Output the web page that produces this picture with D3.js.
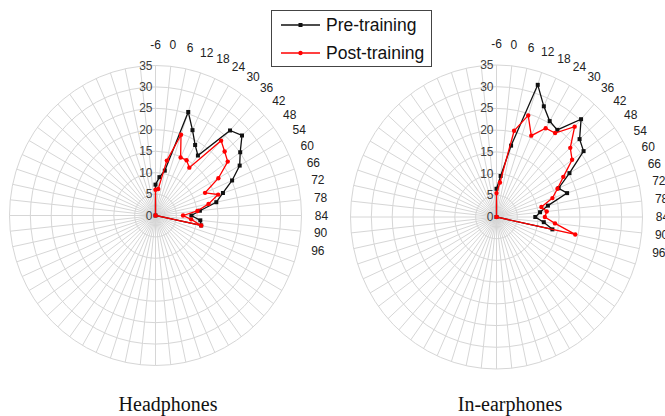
<!DOCTYPE html>
<html>
<head>
<meta charset="utf-8">
<script src="https://cdn.jsdelivr.net/npm/d3@7"></script>
<style>
  body { margin: 0; background: #fff; }
  svg { display: block; }
  .ring, .spoke { fill: none; stroke: #d6d6d6; stroke-width: 1; }
  .rlabel { font-family: Arial, "Liberation Sans", sans-serif; font-size: 12px; fill: #404040; }
  .clabel { font-family: Arial, "Liberation Sans", sans-serif; font-size: 12px; fill: #222; }
  .caption { font-family: "Liberation Serif", "Times New Roman", serif; font-size: 20px; fill: #111; }
  .legend text { font-family: Arial, "Liberation Sans", sans-serif; font-size: 17.5px; fill: #111; }
</style>
</head>
<body>
<div id="chart"></div>
<script>
// category labels (only the first 18 of the 60 spokes carry text)
var catLabels = ['-6','0','6','12','18','24','30','36','42','48','54','60','66','72','78','84','90','96'];
var spokeCount = 60;
var radialTicks = [0, 5, 10, 15, 20, 25, 30, 35];

// Headphones
var headPre  = [7.2, 9.0, 10.7, 25.4, 21.8, 19.0, 17.3, 26.7, 27.9, 25.1, 23.3, 20.1, 17.0, 14.9, 10.7, 8.6, 10.8, 11.2];
var headPost = [6.0, 6.2, 13.1, 19.8, 14.8, 14.9, 13.8, 23.5, 22.3, 21.4, 17.4, 13.0, 15.8, 13.0, 10.1, 6.6, 8.6, 11.2];
// In-earphones
var earPre   = [6.5, 9.5, 16.8, 32.0, 27.9, 25.5, 24.8, 30.3, 26.8, 25.8, 20.2, 16.3, 17.8, 12.6, 10.5, 9.3, 11.4, 13.7];
var earPost  = [5.5, 8.0, 20.3, 24.6, 20.5, 23.6, 23.9, 28.0, 23.8, 22.4, 18.5, 16.0, 14.1, 11.0, 12.1, 11.6, 14.1, 19.3];

var W = 665, H = 416;
var svg = d3.select('#chart').append('svg')
  .attr('width', W)
  .attr('height', H);

function radar(opt) {
  var g = svg.append('g');
  var rScale = d3.scaleLinear().domain([0, 35]).range([0, opt.ry]);
  var sx = opt.rx / opt.ry;
  var aScale = d3.scaleLinear().domain([0, spokeCount]).range([0, 2 * Math.PI]);

  function px(i, v) { return opt.cx + sx * rScale(v) * Math.sin(aScale(i)); }
  function py(i, v) { return opt.cy - rScale(v) * Math.cos(aScale(i)); }

  // rings
  g.selectAll('.ring')
    .data(radialTicks.slice(1))
    .enter().append('ellipse')
    .attr('class', 'ring')
    .attr('cx', opt.cx).attr('cy', opt.cy)
    .attr('rx', function(d){ return sx * rScale(d); })
    .attr('ry', function(d){ return rScale(d); });

  // spokes
  g.selectAll('.spoke')
    .data(d3.range(spokeCount))
    .enter().append('line')
    .attr('class', 'spoke')
    .attr('x1', opt.cx).attr('y1', opt.cy)
    .attr('x2', function(i){ return px(i, 35); })
    .attr('y2', function(i){ return py(i, 35); });

  // radial tick labels
  g.selectAll('.rlabel')
    .data(radialTicks)
    .enter().append('text')
    .attr('class', 'rlabel')
    .attr('x', opt.cx - 3)
    .attr('y', function(d){ return opt.cy - rScale(d) + 4; })
    .attr('text-anchor', 'end')
    .text(function(d){ return d; });

  // category labels
  g.selectAll('.clabel')
    .data(catLabels)
    .enter().append('text')
    .attr('class', 'clabel')
    .attr('x', function(d, i){ return px(i, 35) + 20 * Math.sin(aScale(i)); })
    .attr('y', function(d, i){ return py(i, 35) - 21 * Math.cos(aScale(i)) + 4; })
    .attr('text-anchor', 'middle')
    .text(function(d){ return d; });

  // series: values on labelled spokes, zero on the rest
  var line = d3.line()
    .x(function(d){ return px(d.i, d.v); })
    .y(function(d){ return py(d.i, d.v); });

  opt.series.forEach(function(s) {
    var pts = s.values.map(function(v, i){ return {i: i, v: v}; });
    pts.push({i: s.values.length, v: 0});
    pts.push({i: 0, v: s.values[0]});
    g.append('path')
      .attr('d', line(pts))
      .attr('fill', 'none')
      .attr('stroke', s.color)
      .attr('stroke-width', 1.3);

    var mk = g.selectAll(null)
      .data(pts.slice(0, pts.length - 1))
      .enter();
    if (s.shape === 'square') {
      mk.append('rect')
        .attr('x', function(d){ return px(d.i, d.v) - 2; })
        .attr('y', function(d){ return py(d.i, d.v) - 2; })
        .attr('width', 4).attr('height', 4)
        .attr('fill', s.color);
    } else {
      mk.append('circle')
        .attr('cx', function(d){ return px(d.i, d.v); })
        .attr('cy', function(d){ return py(d.i, d.v); })
        .attr('r', 2.2)
        .attr('fill', s.color);
    }
  });

  svg.append('text')
    .attr('class', 'caption')
    .attr('x', opt.capX)
    .attr('y', 411)
    .attr('text-anchor', 'middle')
    .text(opt.caption);
}

radar({cx: 155.5, cy: 215.5, rx: 146, ry: 150, capX: 168, caption: 'Headphones',
  series: [{values: headPre, color: '#111', shape: 'square'}, {values: headPost, color: '#ff0000', shape: 'circle'}]});
radar({cx: 496.5, cy: 217, rx: 146, ry: 152, capX: 510, caption: 'In-earphones',
  series: [{values: earPre, color: '#111', shape: 'square'}, {values: earPost, color: '#ff0000', shape: 'circle'}]});

// legend
var legend = svg.append('g').attr('class', 'legend');
legend.append('rect')
  .attr('x', 271.5).attr('y', 10.5).attr('width', 160).attr('height', 56)
  .attr('fill', '#fff').attr('stroke', '#444').attr('stroke-width', 1);
var legendItems = [{name: 'Pre-training', color: '#111', shape: 'square'}, {name: 'Post-training', color: '#ff0000', shape: 'circle'}];
legendItems.forEach(function(d, i) {
  var y = 25 + i * 28;
  legend.append('line')
    .attr('x1', 281).attr('x2', 320).attr('y1', y).attr('y2', y)
    .attr('stroke', d.color).attr('stroke-width', 1.3);
  if (d.shape === 'square') {
    legend.append('rect').attr('x', 298.5).attr('y', y - 2).attr('width', 4).attr('height', 4).attr('fill', d.color);
  } else {
    legend.append('circle').attr('cx', 300.5).attr('cy', y).attr('r', 2.2).attr('fill', d.color);
  }
  legend.append('text').attr('x', 326).attr('y', y + 6).text(d.name);
});
</script>
</body>
</html>
